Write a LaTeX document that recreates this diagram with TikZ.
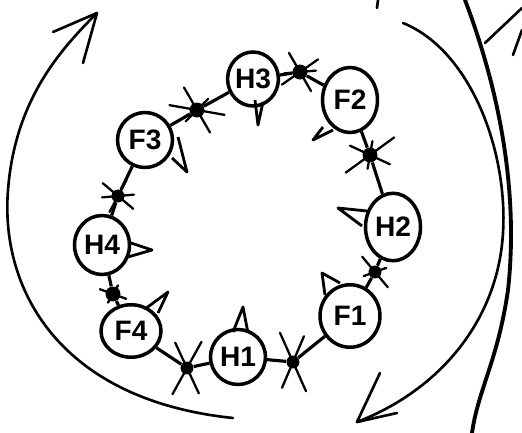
\documentclass[tikz,border=0pt]{standalone}
\usepackage{fontspec}
\setmainfont{Liberation Sans}
\usetikzlibrary{shapes.geometric}

\begin{document}
\begin{tikzpicture}[x=0.02cm, y=-0.02cm,
  eater/.style={draw, ellipse, line width=2pt, minimum width=1.1cm, minimum height=1.1cm, inner sep=0pt, font=\fontsize{16}{16}\selectfont\bfseries},
  fork/.style={circle, fill=black, inner sep=0pt, minimum size=0.3cm},
  spike/.style={line width=1.3pt, line cap=round},
  link/.style={line width=1.8pt},
  ear/.style={line width=1.6pt, line join=round},
  bigarr/.style={line width=1.5pt, line cap=round}
]
  \useasboundingbox (0,0) rectangle (522,433);

  % the table
  \node[eater, minimum width=1.0cm, minimum height=1.08cm] (H3) at (253,79) {H3};
  \node[eater, minimum height=1.3cm] (F2) at (350,100) {F2};
  \node[eater, minimum height=1.35cm] (H2) at (393,227) {H2};
  \node[eater, minimum width=1.2cm, minimum height=1.25cm] (F1) at (350,316) {F1};
  \node[eater] (H1) at (238,357) {H1};
  \node[eater, minimum width=1.2cm, minimum height=1.05cm] (F4) at (131,331) {F4};
  \node[eater, minimum height=1.18cm] (H4) at (102,245) {H4};
  \node[eater] (F3) at (145,140) {F3};

  % forks
  \node[fork] (gA) at (300,72) {};
  \node[fork] (gB) at (370,155) {};
  \node[fork, minimum size=0.26cm] (gC) at (375,272) {};
  \node[fork, minimum size=0.26cm] (gD) at (293,362) {};
  \node[fork, minimum size=0.26cm] (gE) at (187,368) {};
  \node[fork] (gF) at (113,294) {};
  \node[fork, minimum size=0.26cm] (gG) at (118,196) {};
  \node[fork] (gH) at (197,110) {};

  \draw[link] (H3) -- (gA) -- (F2) -- (gB) -- (H2) -- (gC) -- (F1) -- (gD)
    -- (H1) -- (gE) -- (F4) -- (gF) -- (H4) -- (gG) -- (F3) -- (gH) -- (H3);

  \foreach \g/\a/\r in {gA/60/22, gA/145/22, gA/-5/16, gB/144/30, gB/25/22, gB/100/14,
      gC/50/20, gC/160/12, gD/66/32, gD/113/28, gE/65/28, gE/119/30,
      gF/20/14, gF/120/10, gG/40/20, gG/-5/16, gG/118/18,
      gH/10/28, gH/60/26, gH/135/16}
    \draw[spike] (\g) ++(\a:\r) -- ++(\a+180:2*\r);

  % beaks and ears
  \draw[ear] (255,100) -- (258,125) -- (263,102);
  \draw[ear] (323,127) -- (313,140) -- (333,130);
  \draw[ear] (367,211) -- (338,208) -- (362,226);
  \draw[ear] (325,295) -- (322,273) -- (340,283);
  \draw[ear] (233,332) -- (243,307) -- (248,333);
  \draw[ear] (145,309) -- (168,292) -- (158,313);
  \draw[ear] (128,242) -- (152,250) -- (128,257);
  \draw[ear] (178,137) -- (187,172) -- (172,158);

  % turning arrows
  \coordinate (tipL) at (97,13);
  \coordinate (tipR) at (357,422);
  \draw[bigarr] (233,418) .. controls (60,400) and (0,290) .. (8,190)
    .. controls (15,100) and (60,50) .. (tipL);
  \draw[bigarr] (tipL) -- (53,32);
  \draw[bigarr] (tipL) -- (83,63);
  \draw[bigarr] (403,23) .. controls (470,50) and (508,150) .. (503,233)
    .. controls (498,320) and (440,390) .. (tipR);
  \draw[bigarr] (tipR) -- (380,373);
  \draw[bigarr] (tipR) -- (397,413);

  % edge of the sheet
  \draw[bigarr, line width=2.2pt] (465,0) .. controls (503,100) and (518,200) .. (508,290)
    .. controls (498,360) and (478,390) .. (472,433);
  \draw[bigarr] (485,43) -- (522,8);
  \draw[bigarr] (513,55) -- (522,30);
  \draw[bigarr] (378,0) -- (377,8);
\end{tikzpicture}
\end{document}
